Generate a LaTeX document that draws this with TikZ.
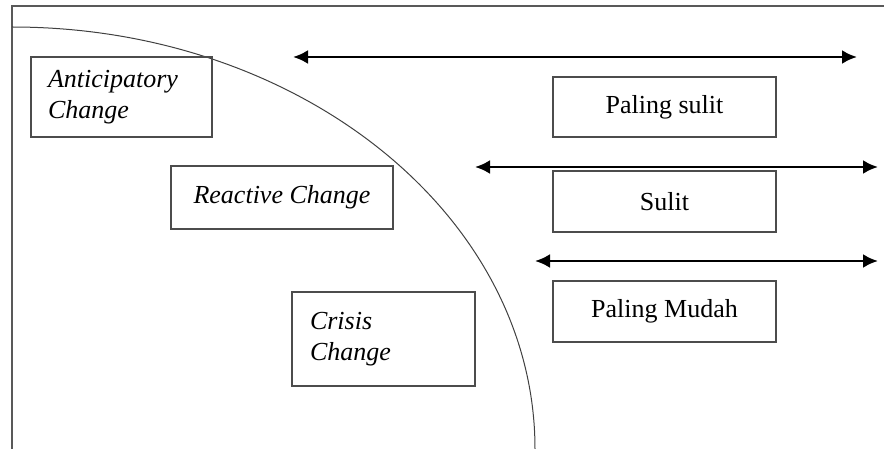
\documentclass[tikz,border=0pt]{standalone}
\usepackage{fontspec}
\setmainfont{Liberation Serif}
\usetikzlibrary{arrows.meta}

\begin{document}
\begin{tikzpicture}[
      x=1pt, y=-1pt,
      every node/.style={font=\fontsize{26}{31}\selectfont},
      kotak/.style={draw=black!70, line width=1.1pt, inner sep=0pt},
      kiri/.style={kotak, align=left, inner xsep=17pt},
      panah/.style={{Latex[length=15pt,width=14pt]}-{Latex[length=15pt,width=14pt]}, line width=2.6pt}
    ]
    \useasboundingbox (0,0) rectangle (884,449);
    % bingkai dan lengkung
    \draw[black!65, line width=1.2pt] (12,449) -- (12,6) -- (884,6);
    \draw[black!75, line width=1pt] (12,27) arc[start angle=-90, end angle=0, x radius=523, y radius=422];

    \node[kiri, minimum width=181pt, minimum height=80pt, text width=147pt] (antisipasi) at (121.5,97) {\itshape Anticipatory\\ \itshape Change};
    \node[kotak, minimum width=222pt, minimum height=63pt] (reaktif) at (282,197.5) {\itshape Reactive Change};
    \node[kiri, minimum width=183pt, minimum height=94pt, text width=147pt, inner xsep=18pt] (krisis) at (383.5,339) {\itshape Crisis\\ \itshape Change};

    \node[kotak, minimum width=223pt, minimum height=60pt] (sulit1) at (664.5,107) {Paling sulit};
    \node[kotak, minimum width=223pt, minimum height=61pt] (sulit2) at (664.5,201.5) {Sulit};
    \node[kotak, minimum width=223pt, minimum height=61pt] (mudah) at (664.5,311.5) {Paling Mudah};

    \coordinate (a1) at (293,57);
    \coordinate (b1) at (857,57);
    \coordinate (a2) at (475,167);
    \coordinate (b2) at (878,167);
    \coordinate (a3) at (535,261);
    \coordinate (b3) at (878,261);
    \draw[panah] (a1) -- (b1);
    \draw[panah] (a2) -- (b2);
    \draw[panah] (a3) -- (b3);
  \end{tikzpicture}
\end{document}
